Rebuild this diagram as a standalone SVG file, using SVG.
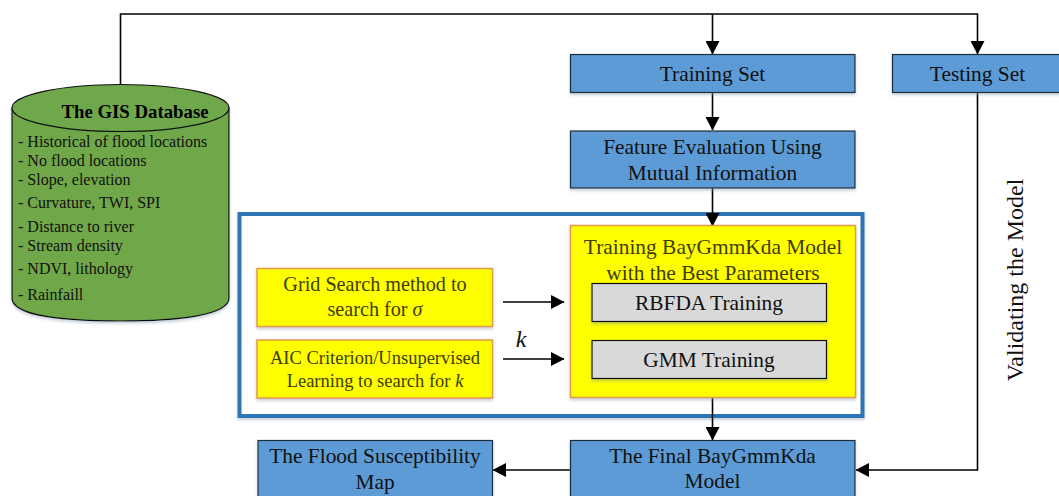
<svg xmlns="http://www.w3.org/2000/svg" width="1059" height="496" viewBox="0 0 1059 496">
<defs>
<marker id="arr" markerUnits="userSpaceOnUse" markerWidth="14" markerHeight="14" refX="13" refY="7" orient="auto"><path d="M0,0 L13.500,7 L0,14 Z" fill="#000"/></marker>
<filter id="sh" x="-5%" y="-10%" width="110%" height="125%"><feDropShadow dx="0" dy="2" stdDeviation="1.800" flood-color="#7f93a8" flood-opacity=".45"/></filter>
</defs>
<style>
text{font-family:"Liberation Serif","Times New Roman",serif;text-anchor:middle;fill:#111;font-size:21.400px}
.blue{fill:#5b9bd5;stroke:#1f2d3a;stroke-width:1.200;filter:url(#sh)}
.yel{fill:#ffff00;stroke:#e39a4a;stroke-width:1.500;filter:url(#sh)}
.gray{fill:#d9d9d9;stroke:#111;stroke-width:1.200;filter:url(#sh)}
.con{fill:none;stroke:#000;stroke-width:1.600}
.arr{marker-end:url(#arr)}
.db{font-size:16px;text-anchor:start}
.y{fill:#3d3d00}
</style>
<g id="frame"><rect x="239.500" y="214" width="623" height="202" fill="#fff" stroke="#2e75b6" stroke-width="4" filter="url(#sh)"/></g>
<g id="connectors">
<path class="con" d="M120.500,84 V14 H977.500 V54" marker-end="url(#arr)"/>
<path class="con arr" d="M712.500,14 V54"/>
<path class="con arr" d="M712.500,93 V130"/>
<path class="con arr" d="M712.500,188 V226"/>
<path class="con arr" d="M712.500,397 V440"/>
<path class="con arr" d="M977.500,93 V470 H856"/>
<path class="con arr" d="M570,470 H493"/>
<path class="con arr" d="M503,302 H564"/>
<path class="con arr" d="M503,359 H564"/>
</g>
<g id="db">
<path d="M12,108 V298 C12,315 60,321 120,321 C180,321 229,315 229,298 V108 Z" fill="#6fa84a" stroke="#111" stroke-width="1.200" filter="url(#sh)"/>
<ellipse cx="120.500" cy="108" rx="108.500" ry="23.500" fill="#6fa84a" stroke="#111" stroke-width="1.200"/>
<text x="135" y="118" style="font-size:18.800px;font-weight:bold;fill:#000">The GIS Database</text>
<text class="db" x="18" y="147">- Historical of flood locations</text>
<text class="db" x="18" y="166">- No flood locations</text>
<text class="db" x="18" y="185">- Slope, elevation</text>
<text class="db" x="18" y="208">- Curvature, TWI, SPI</text>
<text class="db" x="18" y="232">- Distance to river</text>
<text class="db" x="18" y="251">- Stream density</text>
<text class="db" x="18" y="274">- NDVI, lithology</text>
<text class="db" x="18" y="300">- Rainfaill</text>
</g>
<g id="training-set"><rect class="blue" x="570.500" y="54.500" width="284.500" height="38"/><text x="712.500" y="81">Training Set</text></g>
<g id="testing-set"><rect class="blue" x="892.500" y="54.500" width="175" height="38"/><text x="977.500" y="81">Testing Set</text></g>
<g id="feature-eval"><rect class="blue" x="570.500" y="131" width="284.500" height="57"/><text x="712.500" y="154">Feature Evaluation Using</text><text x="712.500" y="180">Mutual Information</text></g>
<g id="grid-search"><rect class="yel" x="257" y="268.500" width="235.500" height="58"/><text class="y" x="375" y="291" style="font-size:20.200px">Grid Search method to</text><text class="y" x="375" y="316" style="font-size:20.200px">search for <tspan font-style="italic">σ</tspan></text></g>
<g id="aic"><rect class="yel" x="257" y="340" width="235.500" height="58"/><text class="y" x="375" y="364" style="font-size:18.500px">AIC Criterion/Unsupervised</text><text class="y" x="375" y="387" style="font-size:18.500px">Learning to search for <tspan font-style="italic">k</tspan></text></g>
<text x="521" y="347" style="font-size:24px;font-style:italic">k</text>
<g id="training-model"><rect class="yel" x="570.500" y="225.500" width="285" height="172"/><text class="y" x="713" y="254">Training BayGmmKda Model</text><text class="y" x="713" y="280">with the Best Parameters</text></g>
<g id="rbfda"><rect class="gray" x="592" y="283.500" width="234.500" height="38"/><text x="709" y="310">RBFDA Training</text></g>
<g id="gmm"><rect class="gray" x="592" y="340.500" width="234.500" height="38"/><text x="709" y="367">GMM Training</text></g>
<g id="final"><rect class="blue" x="570.500" y="440.500" width="284.500" height="70"/><text x="712.500" y="463">The Final BayGmmKda</text><text x="712.500" y="488">Model</text></g>
<g id="map"><rect class="blue" x="258" y="440.500" width="234.500" height="70"/><text x="375" y="463">The Flood Susceptibility</text><text x="375" y="489">Map</text></g>
<text transform="translate(1023,280) rotate(-90)" style="font-size:24px">Validating the Model</text>
</svg>
